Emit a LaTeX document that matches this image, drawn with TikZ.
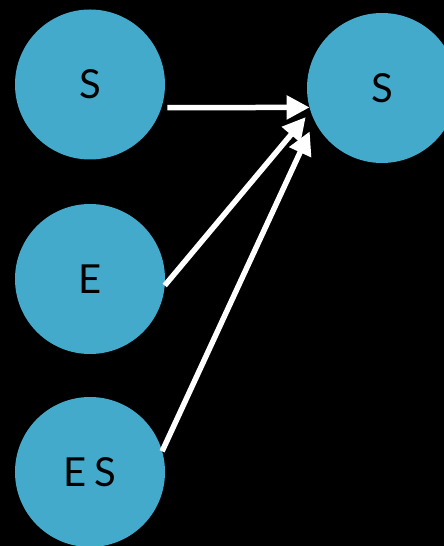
\documentclass[tikz,border=0pt]{standalone}
\usepackage{fontspec}
\setmainfont{Lato}
\usetikzlibrary{arrows.meta}
\definecolor{ballblue}{HTML}{43AACB}
\tikzset{
  ball/.style={circle, fill=ballblue, minimum size=150pt, inner sep=0pt, outer sep=0pt, font=\fontsize{40}{40}\selectfont},
  link/.style={white, line width=5.5pt, -{Triangle[length=23pt,width=23pt]}}
}
\begin{document}
\begin{tikzpicture}[x=1pt,y=1pt]
\fill[black] (0,0) rectangle (444,546);
\useasboundingbox (0,0) rectangle (444,546);
\node[ball] (inS) at (90,461.5) {S};
\node[ball] (inE) at (90,267) {E};
\node[ball] (inES) at (90,74) {E\kern8pt S};
\node[ball] (outS) at (382,458) {S};
\draw[link, shorten <=6pt] (inS.-18.5) -- (outS.195.5);
\draw[link, shorten >=7.7pt] (inE.-5) -- (outS.198.7);
\draw[link, shorten >=11.6pt] (inES.16) -- (outS.206.5);
\end{tikzpicture}
\end{document}
